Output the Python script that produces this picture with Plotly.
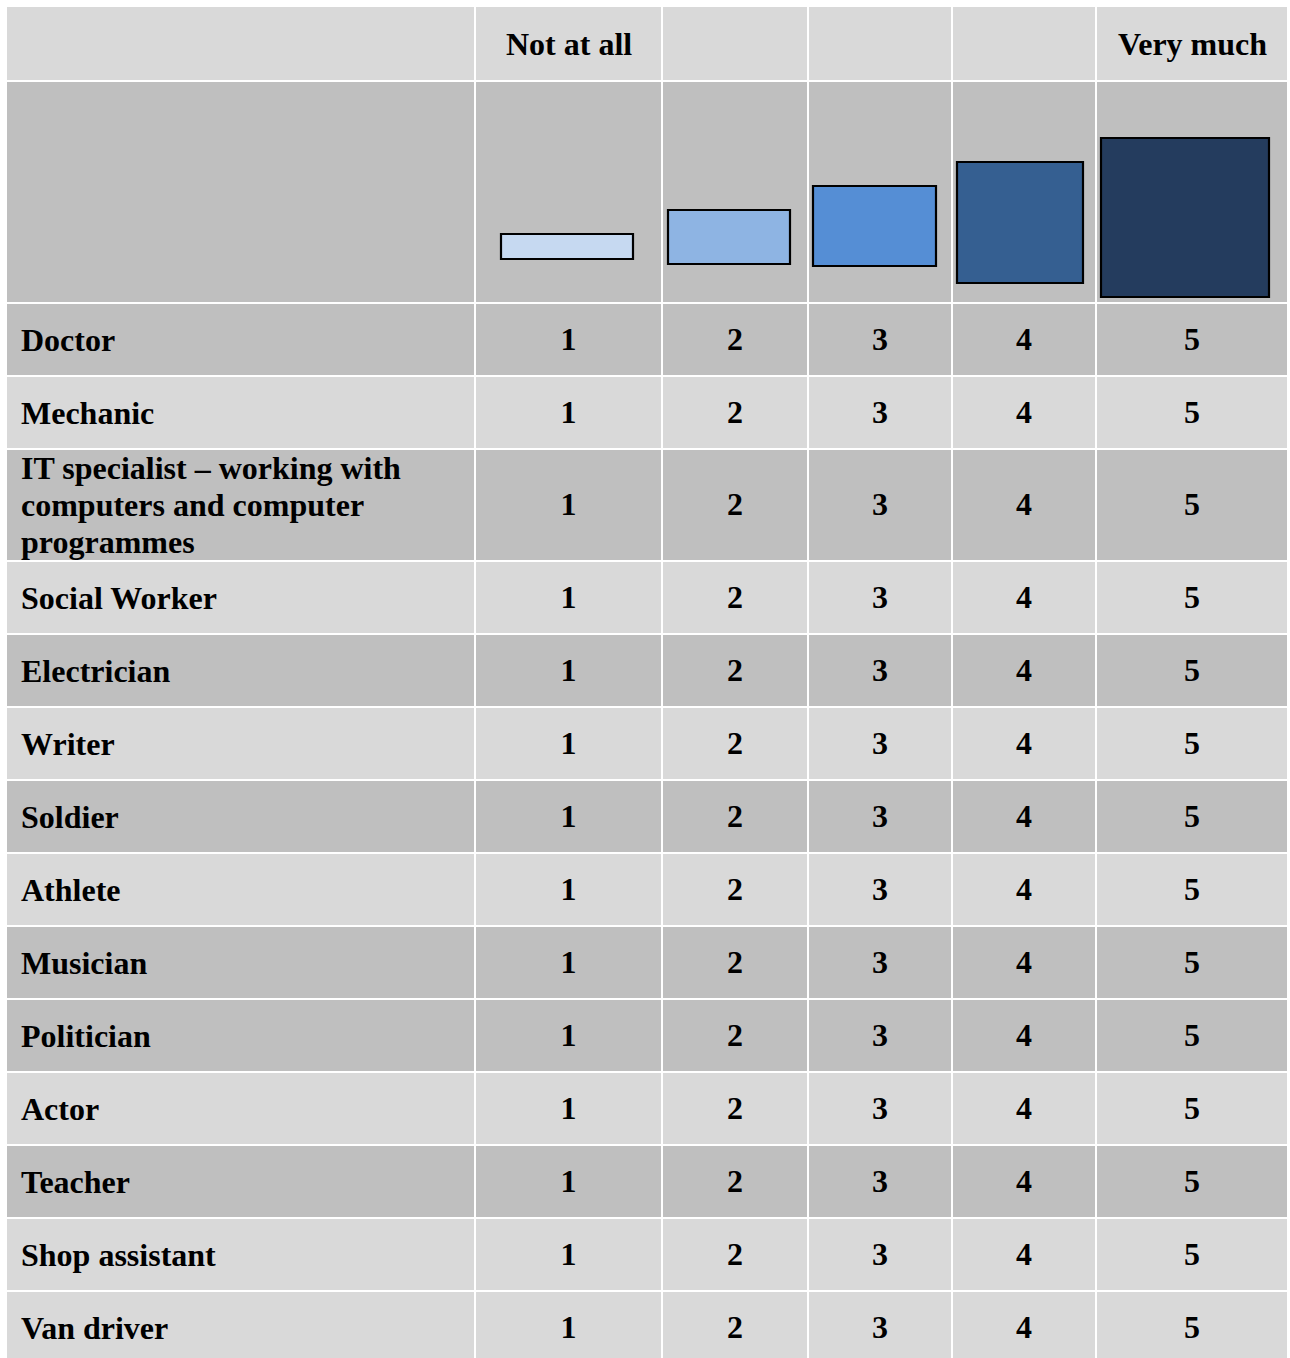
import plotly.graph_objects as go

# ---------------- data ----------------
header_labels = ["", "Not at all", "", "", "", "Very much"]
scale_values = [1, 2, 3, 4, 5]
occupations = [
    "Doctor",
    "Mechanic",
    "IT specialist \u2013 working with\ncomputers and computer\nprogrammes",
    "Social Worker",
    "Electrician",
    "Writer",
    "Soldier",
    "Athlete",
    "Musician",
    "Politician",
    "Actor",
    "Teacher",
    "Shop assistant",
    "Van driver",
]

# ---------------- style / layout ----------------
W, H = 1290, 1358
DARK, LIGHT = "#bfbfbf", "#d9d9d9"
FONT = "Liberation Serif, Times New Roman, serif"
FS = 32
GAP = 2
TOP = 7
col_edges = [7, 474, 661, 807, 951, 1095, 1287]          # x boundaries of columns
header_h = 73
picto_h = 220
row_heights = [71, 71, 110, 71, 71, 71, 71, 71, 71, 71, 71, 71, 71, 71]
row_colors = [DARK, LIGHT, DARK, LIGHT, DARK, LIGHT, DARK, LIGHT, DARK, DARK,
              LIGHT, DARK, LIGHT, LIGHT]
picto_fill = ["#c6d9f1", "#8eb4e3", "#558ed5", "#355f91", "#243c5e"]
picto_box = [  # x0, x1, y0, y1 in pixels
    (501, 633, 234, 259),
    (668, 790, 210, 264),
    (813, 936, 186, 266),
    (957, 1083, 162, 283),
    (1101, 1269, 138, 297),
]
LINE_SP = 37

shapes = []
annotations = []


def cells(y0, y1, color):
    for i in range(len(col_edges) - 1):
        x0 = col_edges[i] + (GAP if i > 0 else 0)
        x1 = col_edges[i + 1]
        shapes.append(dict(type="rect", xref="x", yref="y", x0=x0, x1=x1,
                           y0=y0, y1=y1, fillcolor=color, line_width=0,
                           layer="below"))


col_centers = [(col_edges[i] + GAP + col_edges[i + 1]) / 2
               for i in range(1, len(col_edges) - 1)]

# header row
y = TOP
cells(y, y + header_h, LIGHT)
for i, lab in enumerate(header_labels):
    if lab:
        annotations.append(dict(
            x=col_centers[i - 1], y=y + header_h / 2, xref="x", yref="y",
            text=lab, showarrow=False, xanchor="center", yanchor="middle",
            font=dict(family=FONT, size=FS, color="black", weight="bold")))
y += header_h + GAP

# pictogram row
cells(y, y + picto_h, DARK)
for (x0, x1, y0, y1), fc in zip(picto_box, picto_fill):
    shapes.append(dict(type="rect", xref="x", yref="y", x0=x0, x1=x1,
                       y0=y0, y1=y1, fillcolor=fc,
                       line=dict(color="black", width=2.2), layer="above"))
y += picto_h + GAP

# data rows
num_x, num_y, num_t = [], [], []
for name, h, c in zip(occupations, row_heights, row_colors):
    cells(y, y + h, c)
    yc = y + h / 2
    lines = name.split("\n")
    n = len(lines)
    for k, ln in enumerate(lines):
        annotations.append(dict(
            x=19, y=yc + (k - (n - 1) / 2) * LINE_SP, xref="x", yref="y",
            text=ln, showarrow=False, xanchor="left", yanchor="middle",
            font=dict(family=FONT, size=FS, color="black", weight="bold")))
    for cx, v in zip(col_centers, scale_values):
        num_x.append(cx)
        num_y.append(yc + 2)
        num_t.append(str(v))
    y += h + GAP

fig = go.Figure()
fig.add_trace(go.Scatter(
    x=num_x, y=num_y, text=num_t, mode="text", textposition="middle center",
    textfont=dict(family=FONT, size=FS, color="black", weight="bold"),
    hoverinfo="skip", showlegend=False))

fig.update_layout(
    width=W, height=H, margin=dict(l=0, r=0, t=0, b=0),
    paper_bgcolor="white", plot_bgcolor="white",
    xaxis=dict(range=[0, W], visible=False, fixedrange=True),
    yaxis=dict(range=[H, 0], visible=False, fixedrange=True),
    shapes=shapes, annotations=annotations, showlegend=False,
)

fig.write_html("out.html", config={"displayModeBar": False},
               post_script="document.body.style.margin='0';document.body.style.overflow='hidden';")
